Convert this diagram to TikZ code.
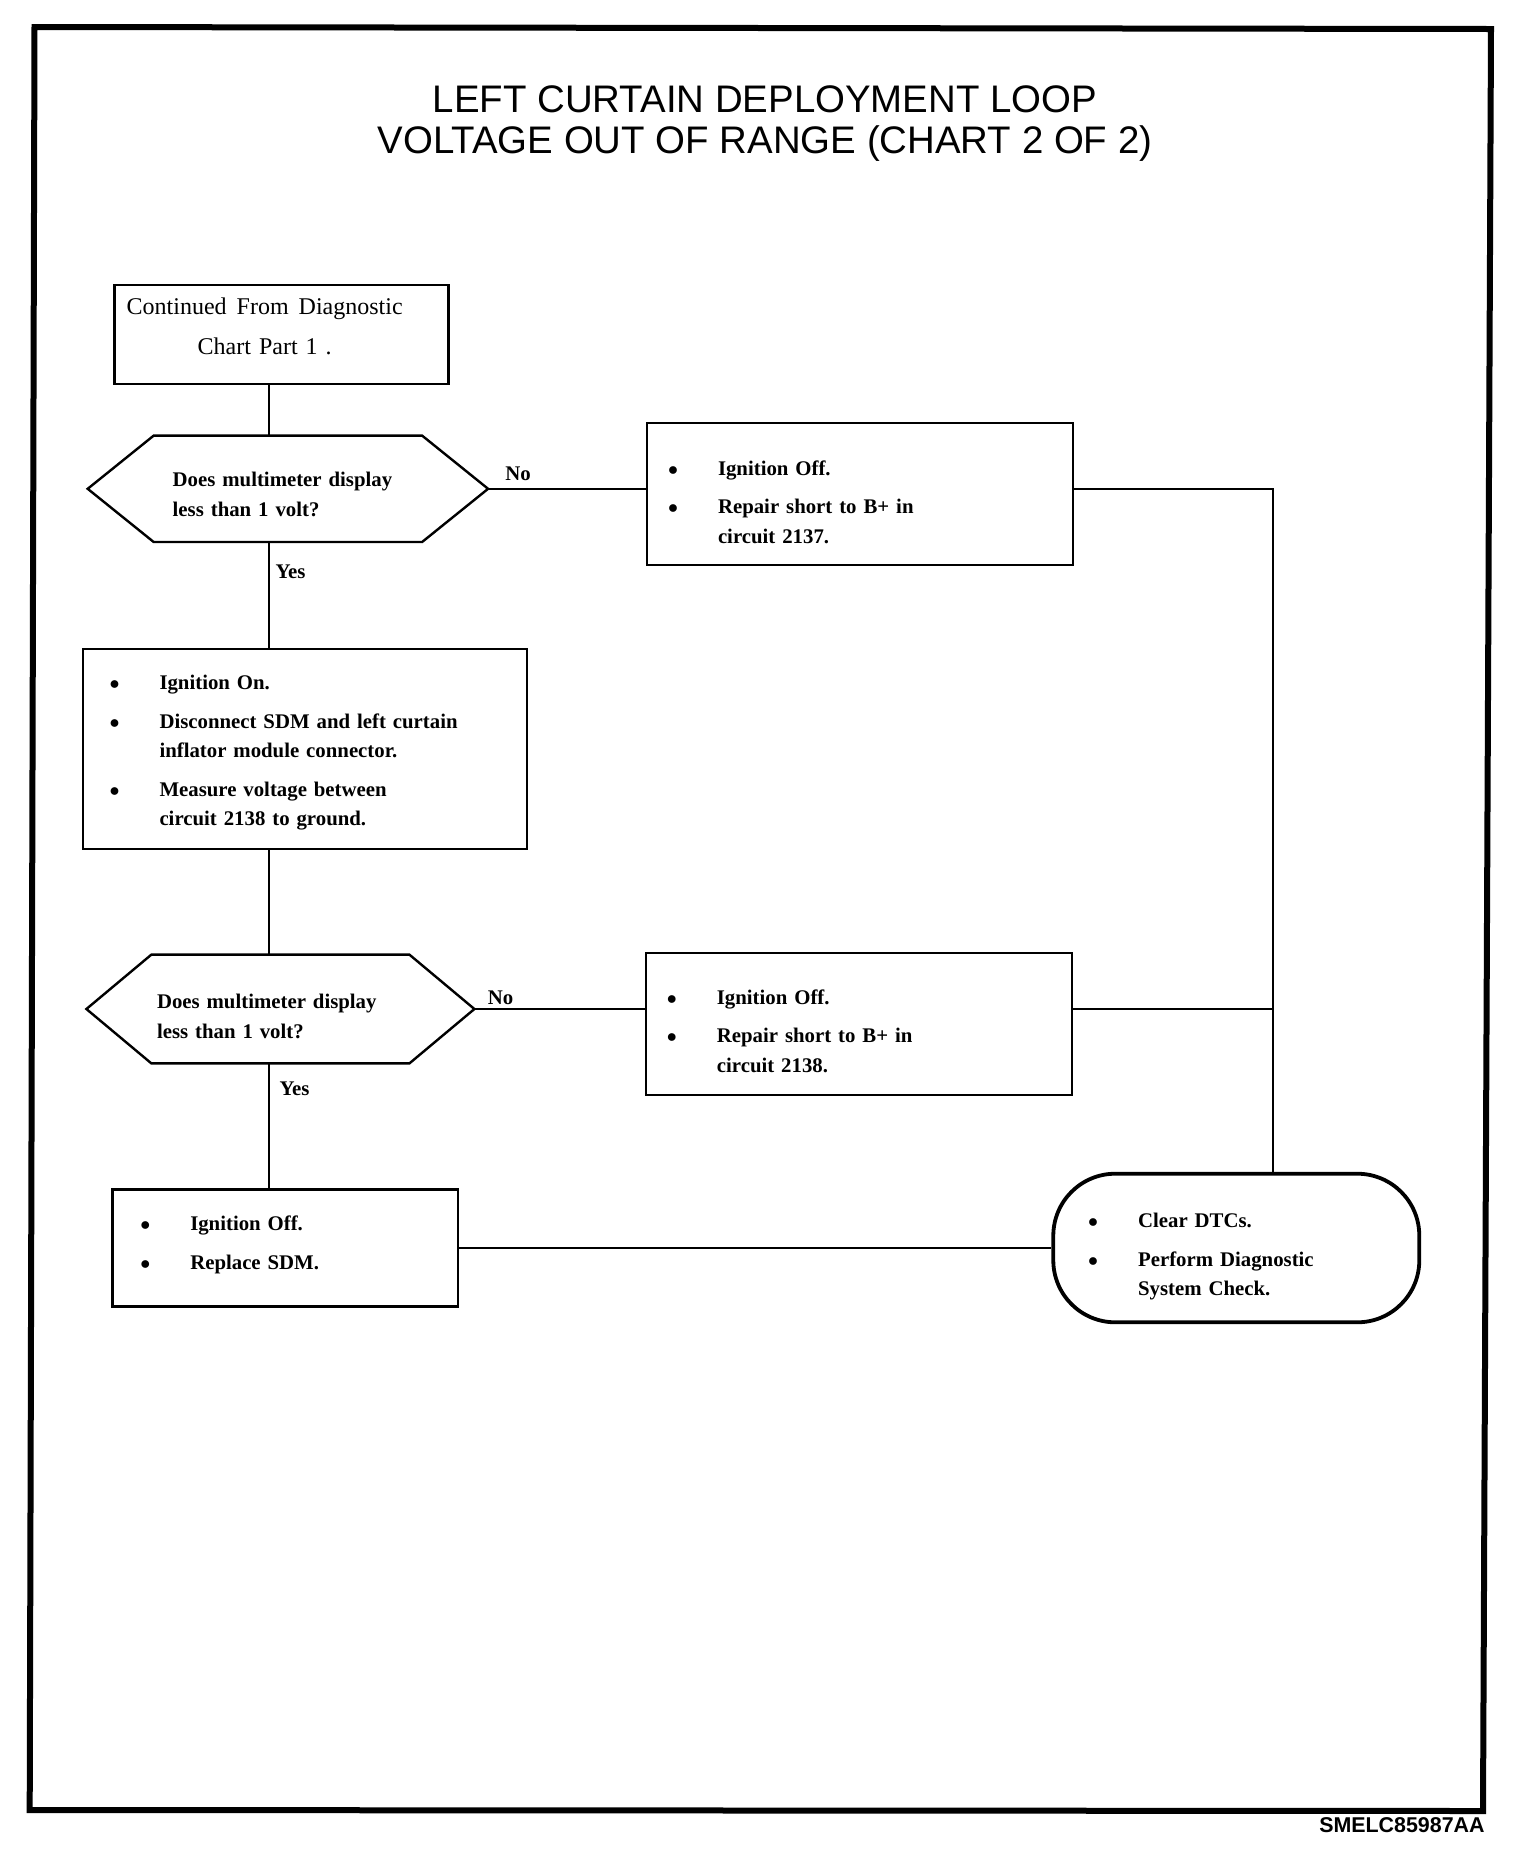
\documentclass[tikz,border=0pt]{standalone}
\usepackage{fontspec}
\setmainfont{Liberation Serif}
\newfontfamily\headfont{Liberation Sans}
\usepackage{tikz}
\usetikzlibrary{positioning}

\newcommand{\boxfont}{\fontsize{10.4}{14.75}\selectfont\bfseries}
\newcommand{\bul}{\makebox[25pt][l]{$\bullet$}}
\newcommand{\cont}{\hspace*{25pt}}

\begin{document}
\begin{tikzpicture}[x=0.5pt, y=-0.5pt,
  stepbox/.style={draw, line width=1.2pt, align=left, font=\boxfont},
  startbox/.style={draw, line width=1.2pt, align=left, font=\fontsize{12}{20}\selectfont},
  decision/.style={align=left, font=\boxfont},
  endbox/.style={stepbox, rounded corners=31pt, line width=1.9pt},
  conn/.style={line width=1pt},
  lbl/.style={font=\boxfont, inner sep=0pt}
]
\fill[white] (0,0) rectangle (1536,1854);
\useasboundingbox (0,0) rectangle (1536,1854);
% outer frame
\draw[line width=3pt] (34.5,27) -- (1491,29) -- (1483,1811) -- (29.7,1810) -- cycle;

\node[font=\headfont\fontsize{19.2}{20.5}\selectfont, align=center] (title) at (765,124)
  {LEFT CURTAIN DEPLOYMENT LOOP\\VOLTAGE OUT OF RANGE (CHART 2 OF 2)};

\node[startbox, minimum width=167pt, minimum height=49.4pt, text width=154.6pt, text height=5.8pt] (start) at (281.3,334.4)
  {\begin{tabular}[t]{@{}c@{}}Continued\hspace{5pt}From\hspace{5pt}Diagnostic\\Chart Part 1 .\end{tabular}};

\node[decision, minimum width=199.8pt, minimum height=52.8pt, text width=115.2pt, text height=13pt] (dec1) at (287.9,488.8)
  {Does multimeter display\\less than 1 volt?};
\node[stepbox, minimum width=213pt, minimum height=71pt, text width=192pt, text height=15.2pt] (act1) at (860,494)
  {\bul Ignition Off.\\[4.5pt] \bul Repair short to B+ in\\ \cont circuit 2137.};
\node[stepbox, minimum width=222pt, minimum height=100pt, text width=195.2pt, text height=11pt] (act2) at (304.7,749)
  {\bul Ignition On.\\[4.5pt] \bul Disconnect SDM and left curtain\\ \cont inflator module connector.\\[4.5pt]
   \bul Measure voltage between\\ \cont circuit 2138 to ground.};

\node[decision, minimum width=193.6pt, minimum height=54pt, text width=123.4pt, text height=14.6pt] (dec2) at (280.4,1009)
  {Does multimeter display\\less than 1 volt?};
\node[stepbox, minimum width=212.9pt, minimum height=71pt, text width=192pt, text height=14.6pt] (act3) at (858.9,1024)
  {\bul Ignition Off.\\[4.5pt] \bul Repair short to B+ in\\ \cont circuit 2138.};
\node[stepbox, minimum width=172.75pt, minimum height=58.35pt, text width=145pt, text height=4pt] (act4) at (285.25,1248)
  {\bul Ignition Off.\\[4.5pt] \bul Replace SDM.};
\node[endbox, minimum width=183pt, minimum height=74.3pt, text width=148.2pt, text height=15.8pt] (final) at (1236.3,1248)
  {\bul Clear DTCs.\\[4.5pt] \bul Perform Diagnostic\\ \cont System Check.};

\foreach \d/\c in {dec1/33pt, dec2/32.5pt}
  \draw[line width=1.2pt] (\d.west) -- ([xshift=\c]\d.north west) -- ([xshift=-\c]\d.north east)
    -- (\d.east) -- ([xshift=-\c]\d.south east) -- ([xshift=\c]\d.south west) -- cycle;

\coordinate (spine) at (268.5,0);
\coordinate (trunk) at (1273,0);

\draw[conn] (start.south -| spine) -- (dec1.north -| spine);
\draw[conn] (dec1.south -| spine) -- node[lbl, pos=0.28, right=3pt] {Yes} (act2.north -| spine);
\draw[conn] (dec1.east) -- node[lbl, pos=0.19, above=3.5pt] {No} (dec1.east -| act1.west);
\draw[conn] (act2.south -| spine) -- (dec2.north -| spine);
\draw[conn] (dec2.south -| spine) -- node[lbl, pos=0.2, right=5pt] {Yes} (act4.north -| spine);
\draw[conn] (dec2.east) -- node[lbl, pos=0.154, above=1.5pt] {No} (dec2.east -| act3.west);
\draw[conn] (act1.east |- dec1.east) -| (final.north -| trunk);
\draw[conn] (act3.east |- dec2.east) -- (trunk |- dec2.east);
\draw[conn] (act4.east) -- (final.west);

\node[font=\headfont\bfseries\fontsize{10.7}{12}\selectfont, anchor=east, inner sep=0pt] (code) at (1485,1825) {SMELC85987AA};
\end{tikzpicture}
\end{document}
